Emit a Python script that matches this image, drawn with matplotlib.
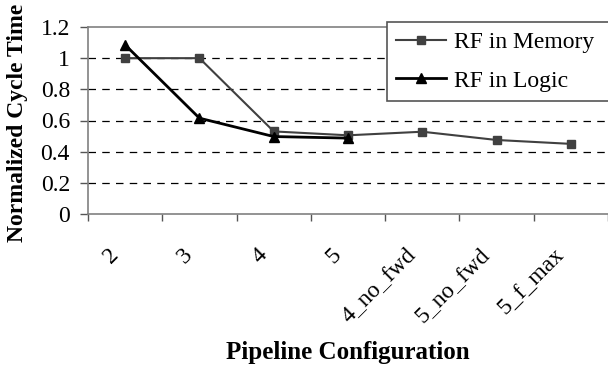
import matplotlib
matplotlib.use('Agg')
import matplotlib.pyplot as plt
import matplotlib.transforms as mtransforms
import numpy as np

plt.rcParams['font.family'] = ['Liberation Serif', 'DejaVu Serif']

configs = ['2', '3', '4', '5', '4_no_fwd', '5_no_fwd', '5_f_max']
rf_memory = [1.0, 1.0, 0.53, 0.505, 0.528, 0.475, 0.45]
rf_logic = [1.085, 0.615, 0.497, 0.487]
y_ticks = [0, 0.2, 0.4, 0.6, 0.8, 1.0, 1.2]

W, H = 608, 368
fig = plt.figure(figsize=(W / 100, H / 100), dpi=100)
ax = fig.add_axes([88 / W, 1 - 214 / H, 1 - 88 / W, (214 - 27) / H])

x = np.arange(len(configs))
ax.plot(x, rf_memory, color='#404040', lw=1.5, marker='s', ms=5.5,
        mfc='#404040', mec='#404040', label='RF in Memory', zorder=3)
ax.plot(x[:len(rf_logic)], rf_logic, color='black', lw=2, marker='^', ms=7,
        mfc='black', mec='black', label='RF in Logic', zorder=4)

ax.set_xlim(-0.5, len(configs) - 0.5)
ax.set_ylim(0, 1.2)

# dashed gridlines at the inner values
for v in y_ticks[1:-1]:
    ax.axhline(v, color='black', lw=0.9, ls=(0, (6, 5)), zorder=1)

ax.set_yticks(y_ticks)
ax.set_yticklabels(['0', '0.2', '0.4', '0.6', '0.8', '1', '1.2'], fontsize=17)
ax.tick_params(axis='y', direction='out', length=6, width=1, color='#555555', pad=7)

# category boundaries as major ticks, labels at centers as minor ticks
ax.set_xticks(np.arange(-0.5, len(configs) + 0.5, 1.0))
ax.set_xticklabels([])
ax.set_xticks(x, minor=True)
ax.set_xticklabels(configs, minor=True, fontsize=17, rotation=45,
                   ha='right', va='center', rotation_mode='anchor')
ax.tick_params(axis='x', which='major', direction='out', length=5, width=1, color='#555555')
ax.tick_params(axis='x', which='minor', length=0, pad=27)
offset = mtransforms.ScaledTranslation(-10 / 100, 0, fig.dpi_scale_trans)
for lab in ax.get_xticklabels(minor=True):
    lab.set_transform(lab.get_transform() + offset)

for side in ['top', 'left', 'bottom']:
    ax.spines[side].set_color('#808080')
    ax.spines[side].set_linewidth(1.2)
ax.spines['right'].set_visible(False)

fig.text(18 / W, 1 - 123 / H, 'Normalized Cycle Time', rotation=90,
         ha='center', va='center', fontsize=17, fontweight='bold')
fig.text(348 / W, 1 - 353 / H, 'Pipeline Configuration',
         ha='center', va='center', fontsize=18, fontweight='bold')

leg = ax.legend(loc='upper left', bbox_to_anchor=(387 / W, 1 - 22 / H, 240 / W, 0),
                bbox_transform=fig.transFigure, mode='expand', fontsize=17,
                frameon=True, fancybox=False, edgecolor='#555555', framealpha=1,
                handlelength=2.1, labelspacing=0.72, borderpad=0.4,
                handletextpad=0.35, borderaxespad=0)
leg.get_frame().set_linewidth(1.2)
leg.set_zorder(5)

fig.savefig('out.png', dpi=100)
